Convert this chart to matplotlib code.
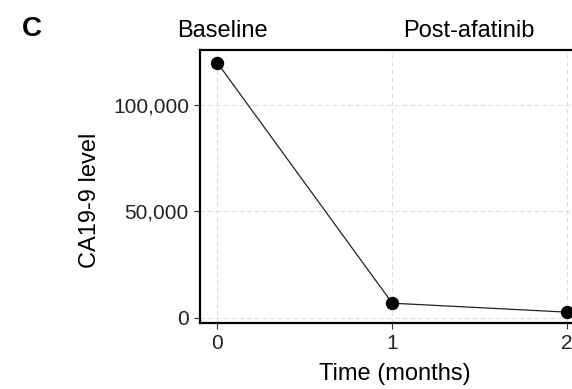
import numpy as np
import matplotlib
matplotlib.use("Agg")
import matplotlib.pyplot as plt
from matplotlib.ticker import StrMethodFormatter
import matplotlib.transforms as mtransforms

plt.rcParams['font.family'] = ['Liberation Sans', 'DejaVu Sans']

# data
months = [0, 1, 2]
ca199 = [119700, 6900, 2700]
x_ticks = [0, 1, 2]
y_ticks = [0, 50000, 100000]
phase_labels = ["Baseline", "Post-afatinib"]
phase_pos = [0.03, 1.44]

W, H = 572, 389
fig = plt.figure(figsize=(W / 100, H / 100), dpi=100)
# axes runs past the right edge of the picture (panel is cropped)
ax = fig.add_axes([200 / W, (H - 323) / H, 384.5 / W, 273 / H])

ax.plot(months, ca199, color='#222222', lw=0.9, zorder=3)
ax.plot(months, ca199, 'o', color='black', ms=8.6, zorder=4, clip_on=False)

ax.set_xlim(-0.1, 2.1)
ax.set_ylim(-2400, 125800)
ax.set_xticks(x_ticks)
ax.set_yticks(y_ticks)
ax.yaxis.set_major_formatter(StrMethodFormatter('{x:,.0f}'))

ax.grid(True, ls=(0, (4, 3)), color='#dddddd', lw=0.8)
ax.set_axisbelow(True)
for s in ax.spines.values():
    s.set_linewidth(1.6)
    s.set_color('black')

ax.tick_params(length=4, width=0.8, color='#333333', labelsize=15,
               labelcolor='#222222', pad=4)

# axis titles placed by hand, the panel is cropped on the right
fig.text(395 / W, 1 - 380 / H, "Time (months)", fontsize=17,
         ha='center', va='baseline')
fig.text(90 / W, 1 - 200 / H, "CA19-9 level", rotation=90, fontsize=17,
         ha='center', va='center')

trans = mtransforms.blended_transform_factory(ax.transData, fig.transFigure)
for lab, xp in zip(phase_labels, phase_pos):
    ax.text(xp, 1 - 37 / H, lab, transform=trans, ha='center', va='baseline',
            fontsize=17)

fig.text(22 / W, 1 - 36 / H, "C", fontsize=20, fontweight='bold',
         ha='left', va='baseline')

fig.savefig("out.png", dpi=100)
